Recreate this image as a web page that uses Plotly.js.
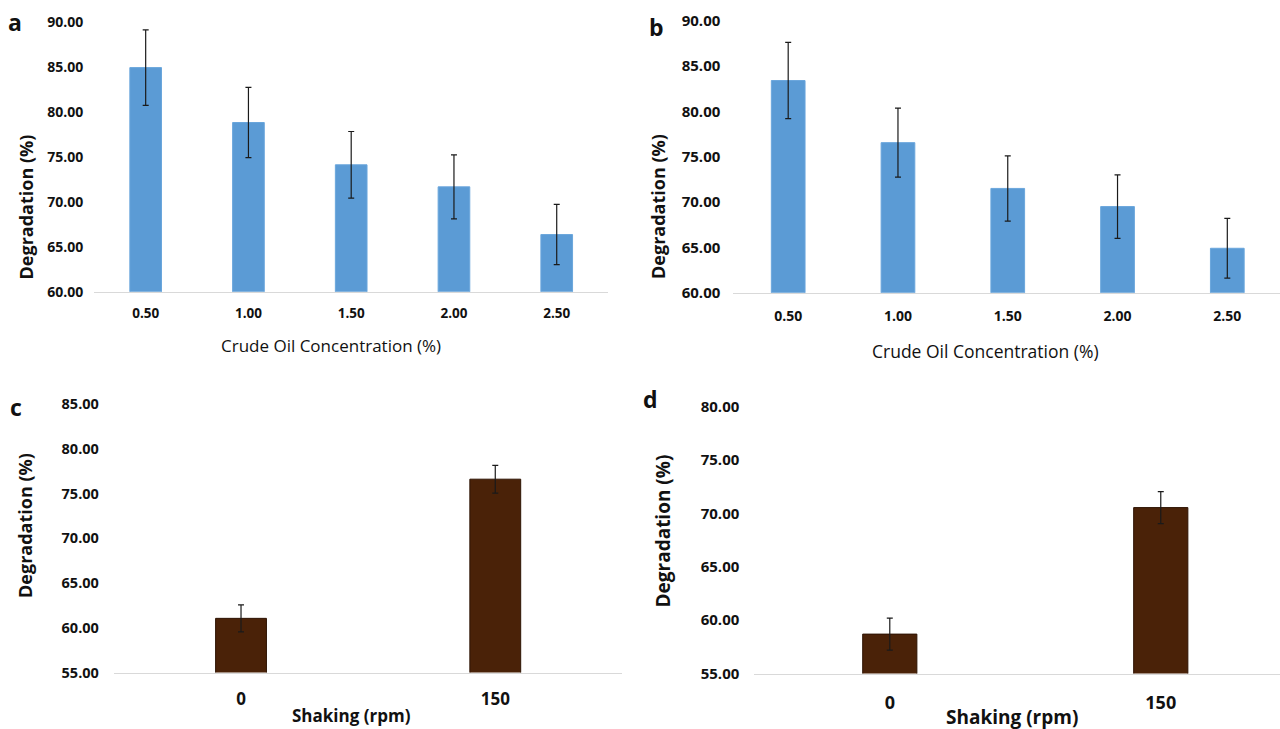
<!DOCTYPE html>
<html>
<head>
<meta charset="utf-8">
<script src="https://cdn.plot.ly/plotly-3.0.1.min.js"></script>
<style>html,body{margin:0;padding:0;background:#fff;}#chart{width:1280px;height:729px;}</style>
</head>
<body>
<div id="chart"></div>
<script>
// ---- data ----
const concLabels = ['0.50', '1.00', '1.50', '2.00', '2.50'];
const degA = [84.9, 78.8, 74.1, 71.65, 66.35];
const errA = [4.2, 3.9, 3.7, 3.55, 3.35];
const degB = [83.4, 76.55, 71.5, 69.5, 64.9];
const errB = [4.2, 3.8, 3.6, 3.5, 3.3];
const shakeLabels = ['0', '150'];
const degC = [61.05, 76.6];
const errC = [1.5, 1.55];
const degD = [58.7, 70.55];
const errD = [1.5, 1.5];
const panelLetters = ['a', 'b', 'c', 'd'];
const yTitle = 'Degradation (%)';
const xTitleConc = 'Crude Oil Concentration (%)';
const xTitleShake = 'Shaking (rpm)';

// ---- styling ----
const W = 1280, H = 729;
const FONT = 'Open Sans, Noto Sans, sans-serif';
const BLUE = '#5b9bd5';
const BROWN = '#4a2208';
const TXT = '#111111';
const px = v => v / W;
const py = v => 1 - v / H;

function barTrace(x, y, err, xa, ya, color, lineColor, width) {
  return {
    type: 'bar', x: x, y: y, xaxis: xa, yaxis: ya, width: width,
    marker: {color: color, line: {color: lineColor, width: 1}},
    error_y: {type: 'data', array: err, visible: true, color: '#1a1a1a', thickness: 1.2, width: 3},
    hoverinfo: 'skip', showlegend: false
  };
}

const data = [
  barTrace(concLabels, degA, errA, 'x', 'y', BLUE, '#6aa6dc', 0.308),
  barTrace(concLabels, degB, errB, 'x2', 'y2', BLUE, '#6aa6dc', 0.307),
  barTrace(shakeLabels, degC, errC, 'x3', 'y3', BROWN, '#2e1404', 0.2),
  barTrace(shakeLabels, degD, errD, 'x4', 'y4', BROWN, '#2e1404', 0.2)
];

function xAxis(domain, range, anchor, fsize, standoff) {
  return {
    domain: domain, range: range, anchor: anchor, type: 'category',
    showgrid: false, zeroline: false, showline: true, linecolor: '#d9d9d9', linewidth: 1.5,
    ticks: '', ticklabelstandoff: standoff,
    tickfont: {family: FONT, size: fsize, color: TXT, weight: 700},
    fixedrange: true
  };
}
function yAxis(domain, range, anchor, fsize, standoff) {
  return {
    domain: domain, range: range, anchor: anchor,
    showgrid: false, zeroline: false, showline: false,
    ticks: '', tick0: 0, dtick: 5, tickformat: '.2f', ticklabelstandoff: standoff,
    tickfont: {family: FONT, size: fsize, color: TXT, weight: 700},
    fixedrange: true
  };
}

function ann(text, x, y, size, weight, angle) {
  return {
    text: text, xref: 'paper', yref: 'paper', x: px(x), y: py(y),
    xanchor: 'center', yanchor: 'middle', showarrow: false, textangle: angle || 0,
    font: {family: FONT, size: size, color: TXT, weight: weight}
  };
}

const layout = {
  width: W, height: H,
  margin: {l: 0, r: 0, t: 0, b: 0},
  paper_bgcolor: '#ffffff', plot_bgcolor: 'rgba(0,0,0,0)',
  showlegend: false,
  xaxis:  xAxis([px(94.3), px(608.1)], [-0.5, 4.5], 'y', 13.5, 9),
  yaxis:  yAxis([py(291.7), py(21.7)], [60, 90], 'x', 14, 10),
  xaxis2: xAxis([px(733.3), 1], [-0.5, 4.48], 'y2', 14, 10),
  yaxis2: yAxis([py(292.7), py(20.7)], [60, 90], 'x2', 15, 12),
  xaxis3: xAxis([px(113.9), px(622.4)], [-0.5, 1.5], 'y3', 17, 11),
  yaxis3: yAxis([py(672.5), py(404)], [55, 85], 'x3', 14.5, 14),
  xaxis4: xAxis([px(754.3), 1], [-0.5, 1.44], 'y4', 18, 12),
  yaxis4: yAxis([py(673.6), py(406.7)], [55, 80], 'x4', 15, 14),
  annotations: [
    ann(panelLetters[0], 15, 22, 23, 700),
    ann(panelLetters[1], 656, 27, 23, 700),
    ann(panelLetters[2], 16, 407, 23, 700),
    ann(panelLetters[3], 650, 399, 23, 700),
    ann(yTitle, 25.5, 207, 18, 700, -90),
    ann(yTitle, 658, 207, 18, 700, -90),
    ann(yTitle, 25, 526, 18, 700, -90),
    ann(yTitle, 662, 531.5, 19, 700, -90),
    ann(xTitleConc, 330.8, 345.7, 17, 400),
    ann(xTitleConc, 985.4, 350.6, 17.5, 400),
    ann(xTitleShake, 351, 715, 17, 700),
    ann(xTitleShake, 1012.4, 716.5, 19, 700)
  ]
};

Plotly.newPlot('chart', data, layout, {staticPlot: true, displayModeBar: false});
</script>
</body>
</html>
